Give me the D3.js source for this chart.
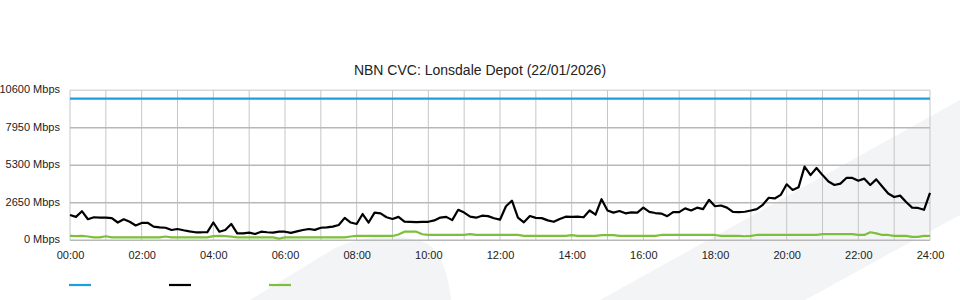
<!DOCTYPE html>
<html>
<head>
<meta charset="utf-8">
<script src="https://cdn.jsdelivr.net/npm/d3@7"></script>
<style>
  html, body { margin: 0; padding: 0; background: #ffffff; }
  svg { display: block; font-family: "Liberation Sans", Arial, Helvetica, sans-serif; }
</style>
</head>
<body>
<svg id="chart" width="960" height="300"></svg>
<script>
// ---- Data ----
const chartTitle = "NBN CVC: Lonsdale Depot (22/01/2026)";
const sampleMinutesStep = 10; // samples every 10 minutes, 00:00 .. 24:00
const xTickLabels = ["00:00","02:00","04:00","06:00","08:00","10:00","12:00","14:00","16:00","18:00","20:00","22:00","24:00"];
const yTickValues = [0, 2650, 5300, 7950, 10600];
const capacityTimes = ["00:00", "24:00"];
const capacityMbps = [10000, 10000];
const downloadMbps = [
  1780,1650,2050,1480,1620,1590,1600,1560,1250,1480,
  1300,1040,1220,1230,960,900,880,720,790,700,
  620,560,560,570,1250,600,720,1150,480,480,
  530,440,600,560,540,600,600,520,620,720,
  790,730,880,900,960,1070,1580,1250,1145,1850,
  1250,1950,1900,1620,1500,1650,1310,1300,1280,1290,
  1300,1400,1600,1650,1420,2150,1950,1660,1590,1730,
  1700,1550,1450,2400,2790,1600,1260,1710,1580,1560,
  1400,1300,1500,1660,1650,1660,1620,2100,1800,2900,
  2100,1950,2060,1900,1960,1950,2300,2000,1920,1880,
  1700,1980,1980,2250,2100,2300,2200,2850,2400,2450,
  2300,2000,1990,2010,2100,2200,2500,3000,2950,3200,
  3950,3550,3750,5200,4600,5100,4600,4150,3900,4000,
  4400,4400,4200,4350,3900,4300,3800,3300,3050,3150,
  2700,2300,2280,2150,3350
];
const uploadMbps = [
  300,290,300,260,200,200,280,200,200,200,
  200,200,200,200,200,200,260,200,200,200,
  200,200,200,200,290,300,290,250,200,200,
  200,200,200,200,200,110,200,200,200,200,
  200,200,200,200,200,200,200,260,300,300,
  300,300,300,300,300,400,600,600,600,420,
  370,370,370,370,370,370,370,430,370,370,
  370,380,380,380,380,380,300,300,300,300,
  300,300,300,300,360,300,300,300,300,360,
  360,360,300,300,300,300,300,300,300,370,
  370,370,370,370,370,370,370,370,370,300,
  300,300,300,280,300,370,370,370,370,370,
  370,370,370,370,370,370,430,430,430,430,
  430,430,370,370,560,480,370,370,300,300,
  300,230,230,300,300
];
const seriesColors = { capacity: "#1b9fe0", download: "#000000", upload: "#7dbf3b" };

// ---- Drawing ----
const svg = d3.select("#chart");
const toHours = s => { const p = s.split(":"); return +p[0] + (+p[1]) / 60; };

const x = d3.scaleLinear().domain([0, 24]).range([70, 930]);
const y = d3.scaleLinear().domain([0, 10600]).range([240.2, 90.2]);

// background decoration
const bg = svg.append("g").attr("fill", "#f3f4f6");
bg.append("path").attr("d", "M600,300 L960,100 L960,215 L805,300 Z");
bg.append("path").attr("d", "M250,300 L335,248 Q385,226 428,244 Q446,256 451,300 Z");

// title
svg.append("text")
  .attr("x", 480).attr("y", 75)
  .attr("text-anchor", "middle")
  .attr("font-size", 14)
  .attr("fill", "#222")
  .text(chartTitle);

// vertical grid (hourly)
const hours = d3.range(0, 25);
svg.append("g").selectAll("line").data(hours).join("line")
  .attr("x1", d => x(d)).attr("x2", d => x(d))
  .attr("y1", y(10600)).attr("y2", y(0))
  .attr("stroke", "#c6c6c6").attr("stroke-width", 1);

// horizontal grid
svg.append("g").selectAll("line").data(yTickValues).join("line")
  .attr("x1", x(0)).attr("x2", x(24))
  .attr("y1", d => y(d)).attr("y2", d => y(d))
  .attr("stroke", d => d === 10600 ? "#c6c6c6" : "#b8b8b8")
  .attr("stroke-width", d => d === 10600 ? 1 : 1.4);

// y axis labels
const yAxis = d3.axisLeft(y).tickValues(yTickValues).tickSize(0).tickPadding(0)
  .tickFormat(d => d + " Mbps");
const yg = svg.append("g").attr("transform", "translate(60,-1)").call(yAxis);
yg.select(".domain").remove();
yg.selectAll("text").attr("font-size", 11).attr("fill", "#222")
  .attr("font-family", "Liberation Sans, Arial, sans-serif");

// x axis labels
const xAxis = d3.axisBottom(x).tickValues(xTickLabels.map(toHours)).tickSize(0).tickPadding(0)
  .tickFormat((d, i) => xTickLabels[i]);
const xg = svg.append("g").attr("transform", "translate(0,251)").call(xAxis);
xg.select(".domain").remove();
xg.selectAll("text").attr("font-size", 11).attr("fill", "#222")
  .attr("font-family", "Liberation Sans, Arial, sans-serif");

// series
const sampleHour = i => i * sampleMinutesStep / 60;
const line = d3.line().x(d => x(d[0])).y(d => y(d[1])).curve(d3.curveLinear);

svg.append("path")
  .datum(uploadMbps.map((v, i) => [sampleHour(i), v]))
  .attr("d", line).attr("fill", "none")
  .attr("stroke", seriesColors.upload).attr("stroke-width", 2.2)
  .attr("stroke-linejoin", "round");

svg.append("path")
  .datum(downloadMbps.map((v, i) => [sampleHour(i), v]))
  .attr("d", line).attr("fill", "none")
  .attr("stroke", seriesColors.download).attr("stroke-width", 2.2)
  .attr("stroke-linejoin", "round");

svg.append("path")
  .datum(capacityMbps.map((v, i) => [toHours(capacityTimes[i]), v]))
  .attr("d", line).attr("fill", "none")
  .attr("stroke", seriesColors.capacity).attr("stroke-width", 2.2);

// legend (line swatches only)
const legendItems = [
  { key: "capacity", x0: 69 },
  { key: "download", x0: 169 },
  { key: "upload", x0: 269 }
];
svg.append("g").selectAll("line").data(legendItems).join("line")
  .attr("x1", d => d.x0).attr("x2", d => d.x0 + 22)
  .attr("y1", 285).attr("y2", 285)
  .attr("stroke", d => seriesColors[d.key]).attr("stroke-width", 2.2);
</script>
</body>
</html>
